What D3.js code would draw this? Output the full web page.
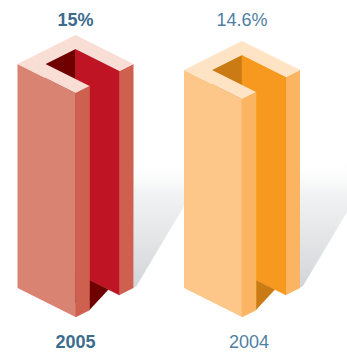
<!DOCTYPE html>
<html>
<head>
<meta charset="utf-8">
<script src="https://cdn.jsdelivr.net/npm/d3@7"></script>
<style>
  html, body { margin: 0; padding: 0; background: #ffffff; }
  svg { display: block; }
</style>
</head>
<body>
<script>
// Chart data
const categories = ["2005", "2004"];
const values = [15, 14.6];
const valueLabels = ["15%", "14.6%"];
const boldLabels = [true, false];

// Face colours for each column (top, left side, right side, channel wall, channel end)
const palettes = [
  { top: "#f8ded5", left: "#d98473", right: "#cd604f", inner: "#be1424", deep: "#700000" },
  { top: "#fee4c5", left: "#fec78a", right: "#fbb461", inner: "#f7981f", deep: "#cb7b14" }
];
const labelColors = { bold: "#3b6c8e", normal: "#4f7fa2" };
const yearDx = [0, 7];

const W = 347, H = 354;
const svg = d3.select("body").append("svg")
  .attr("width", W).attr("height", H);

// Scales: column centre and extruded height
const x = d3.scalePoint().domain(categories).range([75.5, 242]);
const h = d3.scaleLinear().domain([0, 15]).range([0, 224]);

// Dimetric projection: X runs down-right, Y runs down-left, Z up
const groundY = 317;  // screen y of the front-bottom corner
const D = 58;         // footprint depth along each axis
const T = 14;         // wall thickness
const C = 44;         // far side of the channel (Y)
function proj(cx, X, Y, Z) {
  return [cx + X - Y, groundY - D + (X + Y) / 2 - Z];
}
function poly(cx, pts) {
  return pts.map(p => proj(cx, p[0], p[1], p[2]).join(",")).join(" ");
}

// Cast-shadow gradient
const defs = svg.append("defs");
const grad = defs.append("linearGradient")
  .attr("id", "shadowGrad")
  .attr("gradientUnits", "userSpaceOnUse")
  .attr("x1", 0).attr("y1", 160).attr("x2", 0).attr("y2", 290);
grad.append("stop").attr("offset", 0).attr("stop-color", "#ffffff").attr("stop-opacity", 0);
grad.append("stop").attr("offset", 0.25).attr("stop-color", "#f2f3f4").attr("stop-opacity", 1);
grad.append("stop").attr("offset", 1).attr("stop-color", "#d2d5d8").attr("stop-opacity", 1);

const data = categories.map((c, i) => ({
  category: c, value: values[i], label: valueLabels[i], bold: boldLabels[i], pal: palettes[i], dx: yearDx[i]
}));

// Shadows behind all columns
svg.append("g").selectAll("polygon").data(data).join("polygon")
  .attr("points", d => {
    const cx = x(d.category);
    const base = proj(cx, D, 0, 0);
    const pts = [
      [base[0], base[1]],
      [base[0], 150],
      [base[0] + 84, 150],
      [base[0] + 3, base[1] - 2]
    ];
    return pts.map(p => p.join(",")).join(" ");
  })
  .attr("fill", "url(#shadowGrad)");

// Columns
const cols = svg.append("g").selectAll("g").data(data).join("g");

cols.each(function(d) {
  const g = d3.select(this);
  const cx = x(d.category);
  const Z = h(d.value);
  const p = d.pal;

  function face(color, pts, seal) {
    const el = g.append("polygon").attr("fill", color).attr("points", poly(cx, pts));
    // a hairline of the same colour closes anti-aliasing seams between touching faces
    if (seal) el.attr("stroke", color).attr("stroke-width", 0.6).attr("stroke-linejoin", "round");
    return el;
  }

  // channel end wall (faces down-right)
  face(p.deep, [[T, T, 0], [T, C, 0], [T, C, Z], [T, T, Z]], true);
  // channel back wall (faces down-left)
  face(p.inner, [[T, T, 0], [D, T, 0], [D, T, Z], [T, T, Z]], true);
  // shaded floor of the channel
  face(p.deep, [[T, T, 0], [47, T, 0], [D, C, 0], [T, C, 0]], false);
  // right side of the back wall
  face(p.right, [[D, 0, 0], [D, T, 0], [D, T, Z], [D, 0, Z]], false);
  // front block: left face
  face(p.left, [[0, D, 0], [D, D, 0], [D, D, Z], [0, D, Z]], false);
  // front block: right face
  face(p.right, [[D, C, 0], [D, D, 0], [D, D, Z], [D, C, Z]], true);
  // top face (U shape)
  face(p.top, [
    [0, 0, Z], [D, 0, Z], [D, T, Z], [T, T, Z], [T, C, Z], [D, C, Z], [D, D, Z], [0, D, Z]
  ], false);
});

// Value labels
svg.append("g").selectAll("text").data(data).join("text")
  .attr("x", d => x(d.category))
  .attr("y", 26)
  .attr("text-anchor", "middle")
  .attr("font-family", "'Liberation Sans', Arial, sans-serif")
  .attr("font-size", 18)
  .attr("font-weight", d => d.bold ? "bold" : "normal")
  .attr("fill", d => d.bold ? labelColors.bold : labelColors.normal)
  .text(d => d.label);

// Year labels
svg.append("g").selectAll("text").data(data).join("text")
  .attr("x", d => x(d.category) + d.dx)
  .attr("y", 347.5)
  .attr("text-anchor", "middle")
  .attr("font-family", "'Liberation Sans', Arial, sans-serif")
  .attr("font-size", 18)
  .attr("font-weight", d => d.bold ? "bold" : "normal")
  .attr("fill", d => d.bold ? labelColors.bold : labelColors.normal)
  .text(d => d.category);
</script>
</body>
</html>
